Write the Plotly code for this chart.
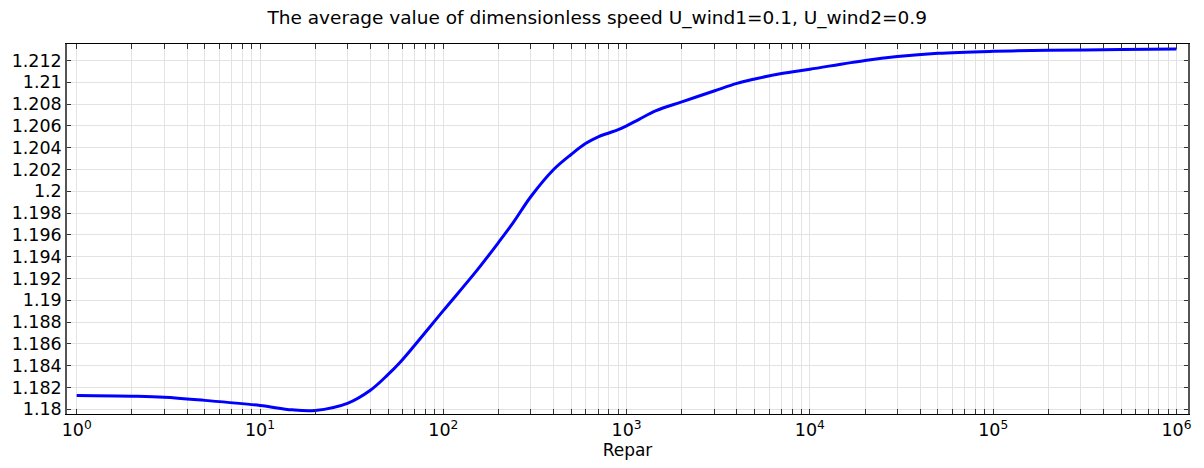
import plotly.graph_objects as go

# Data
repar = [1, 2, 3, 5, 10, 15, 20, 30, 40, 50, 58, 70, 100, 151, 200, 240, 300,
         400, 500, 600, 700, 800, 900, 1000, 1170, 1450, 2000, 3000, 4000, 5000,
         7000, 10000, 20000, 30000, 50000, 100000, 200000, 500000, 1000000]
u_avg = [1.18126, 1.18120, 1.18111, 1.18082, 1.18035, 1.17995, 1.17990, 1.18055,
         1.18175, 1.18320, 1.18430, 1.18590, 1.18905, 1.19265, 1.19530,
         1.19710, 1.19950, 1.20200, 1.20340, 1.20440, 1.20500, 1.20535, 1.20565,
         1.20600, 1.20660, 1.20740, 1.20820, 1.20920, 1.20990, 1.21030, 1.21080,
         1.21120, 1.21200, 1.21236, 1.21266, 1.21284, 1.21293, 1.21300, 1.21304]

y_tickvals = [1.18, 1.182, 1.184, 1.186, 1.188, 1.19, 1.192, 1.194, 1.196, 1.198,
              1.2, 1.202, 1.204, 1.206, 1.208, 1.21, 1.212]
y_ticktext = ["1.18", "1.182", "1.184", "1.186", "1.188", "1.19", "1.192", "1.194",
              "1.196", "1.198", "1.2", "1.202", "1.204", "1.206", "1.208", "1.21", "1.212"]

x_decades = [0, 1, 2, 3, 4, 5, 6]
x_tickvals = []
x_ticktext = []
for d in x_decades:
    for m in range(1, 10):
        if d == 6 and m > 1:
            break
        x_tickvals.append(m * 10 ** d)
        x_ticktext.append(f"10<sup>{d}</sup>" if m == 1 else "")

title_text = "The average value of dimensionless speed U_wind1=0.1, U_wind2=0.9"
x_title = "Repar"

fig = go.Figure()
fig.add_trace(go.Scatter(x=repar, y=u_avg, mode="lines",
                         line=dict(color="#0000ff", width=3, shape="spline", smoothing=1.0),
                         showlegend=False))

font_family = "DejaVu Sans"
fig.update_layout(
    width=1204, height=468,
    margin=dict(l=67, r=16, t=44, b=54),
    paper_bgcolor="white", plot_bgcolor="white",
    font=dict(family=font_family, color="black", size=17),
    title=dict(text=title_text, x=0.496, xref="container", xanchor="center",
               y=0.962, yref="container", yanchor="middle",
               font=dict(size=18.5, family=font_family, color="black")),
    xaxis=dict(type="log", range=[-0.053, 6.063],
               tickvals=x_tickvals, ticktext=x_ticktext,
               ticks="inside", ticklen=5, tickcolor="#333333", tickwidth=1,
               showgrid=True, gridcolor="#e3e3e3", gridwidth=1,
               showline=True, linecolor="black", linewidth=1, mirror="ticks",
               zeroline=False,
               tickfont=dict(size=17.5),
               title=dict(text=x_title, font=dict(size=17), standoff=5)),
    yaxis=dict(range=[1.17957, 1.21351],
               tickvals=y_tickvals, ticktext=y_ticktext,
               ticks="inside", ticklen=4, tickcolor="#333333", tickwidth=1,
               showgrid=True, gridcolor="#e3e3e3", gridwidth=1,
               showline=True, linecolor="#555555", linewidth=1.5, mirror="ticks",
               zeroline=False,
               tickfont=dict(size=17.5)),
)

fig.write_html("out.html")
